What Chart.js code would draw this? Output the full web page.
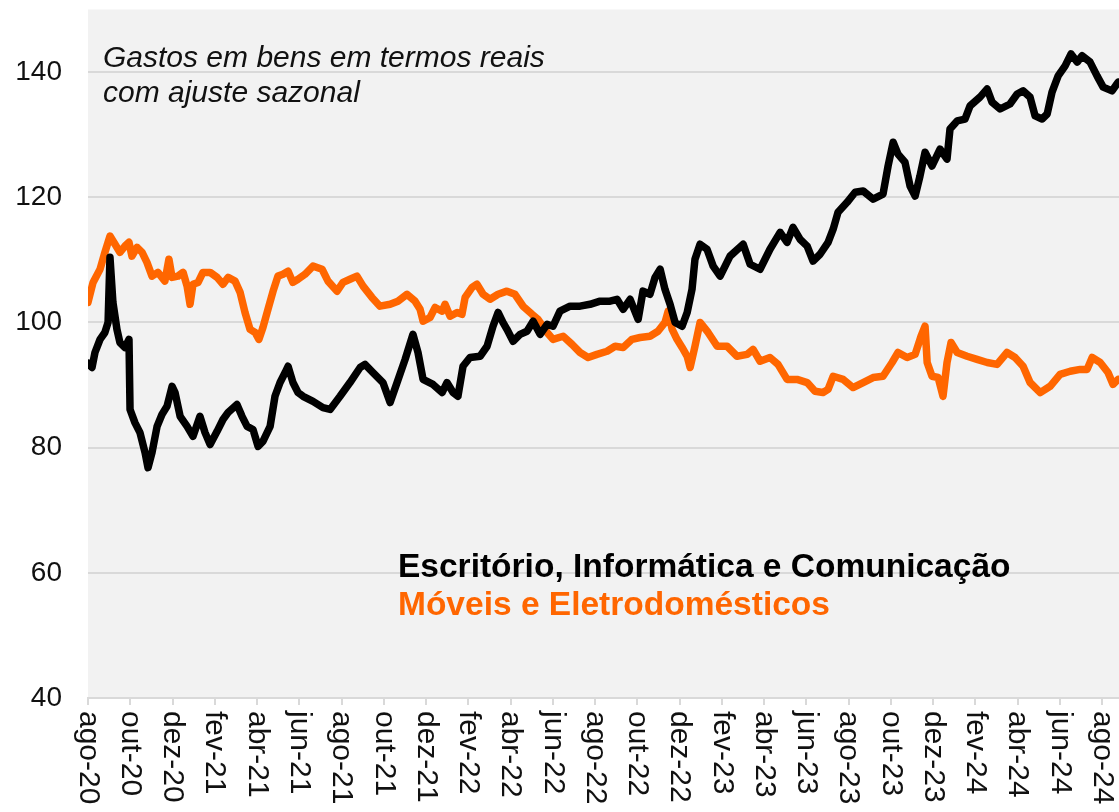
<!DOCTYPE html>
<html>
<head>
<meta charset="utf-8">
<script src="https://cdn.jsdelivr.net/npm/chart.js@4/dist/chart.umd.min.js"></script>
<style>
  body { margin: 0; background: #fff; }
  #wrap { position: relative; width: 1119px; height: 812px; overflow: hidden; }
  .note { position: absolute; left: 103px; top: 40px; font: italic 30px Arial, 'Liberation Sans', sans-serif; line-height: 34.5px; color: #111; white-space: nowrap; }
  .leg { position: absolute; left: 398px; font: bold 33.5px Arial, 'Liberation Sans', sans-serif; line-height: 38px; white-space: nowrap; }
</style>
</head>
<body>
<div id="wrap">
  <canvas id="chart" width="1119" height="812"></canvas>
  <div class="note">Gastos em bens em termos reais<br>com ajuste sazonal</div>
  <div class="leg" style="top:547px;color:#000">Escritório, Informática e Comunicação</div>
  <div class="leg" style="top:585px;color:#ff6600">Móveis e Eletrodomésticos</div>
</div>
<script>
// months counted from ago-20
const tickLabels = ['ago-20','out-20','dez-20','fev-21','abr-21','jun-21','ago-21','out-21','dez-21','fev-22','abr-22','jun-22','ago-22','out-22','dez-22','fev-23','abr-23','jun-23','ago-23','out-23','dez-23','fev-24','abr-24','jun-24','ago-24'];

const blackMonths = [0,0.19,0.33,0.57,0.80,0.95,1.04,1.18,1.37,1.51,1.75,1.94,1.99,2.22,2.46,2.70,2.84,3.03,3.27,3.50,3.74,3.98,4.12,4.36,4.69,4.97,5.30,5.54,5.78,6.11,6.39,6.63,7.05,7.29,7.53,7.81,8.05,8.28,8.62,8.85,9.09,9.33,9.47,9.70,9.94,
  10.18,10.65,11.12,11.46,11.93,12.40,12.88,13.11,13.49,13.96,14.30,14.63,15.01,15.38,15.62,15.86,16.33,16.76,16.99,17.28,17.51,17.75,18.08,18.56,18.89,19.17,19.41,19.64,19.83,20.12,20.45,20.78,21.07,21.40,21.73,22.01,22.34,22.82,23.29,23.76,24.24,24.71,25.04,25.33,25.66,26.04,26.27,26.60,26.84,27.08,27.31,27.55,27.79,28.12,28.36,28.59,28.73,28.97,29.30,29.59,29.92,
  30.39,31.01,31.34,31.81,32.28,32.76,33.09,33.37,33.70,34.04,34.32,34.65,35.03,35.27,35.50,35.93,36.31,36.69,37.16,37.63,37.87,38.11,38.34,38.67,38.91,39.15,39.38,39.62,39.95,40.33,40.66,40.80,41.14,41.51,41.75,42.22,42.56,42.79,43.17,43.64,43.98,44.26,44.59,44.83,45.16,45.40,45.63,45.92,46.25,46.53,46.82,47.05,47.43,47.76,48.05,48.47,48.76];
const blackValues = [93.5,92.8,95.2,97.3,98.4,100,110.4,103.2,98.9,96.8,96,97.3,86.1,84,82.4,79.2,76.8,79.2,83.4,85.3,86.6,89.8,88.8,85,83.4,81.8,85,82.4,80.5,82.6,84.5,85.6,86.9,85,83.4,82.9,80.2,81,83.4,88.2,90.4,92,93,90.4,88.8,
  88.2,87.4,86.4,86.1,88.2,90.4,92.8,93.3,92,90.4,87.2,90.4,94.1,98.1,95.2,90.9,90.1,88.8,90.4,88.8,88.2,93,94.4,94.6,96.2,99.4,101.6,100,98.9,97,98.1,98.6,100.2,98.1,99.7,99.4,101.8,102.6,102.6,102.9,103.4,103.4,103.7,102.1,103.7,100.5,105,104.5,107.2,108.5,105.3,102.9,100,99.4,101.6,105.3,110.1,112.5,111.7,109,107.4,
  110.6,112.5,109.3,108.5,111.7,114.4,112.8,115.2,113.3,112.2,109.8,110.9,112.8,114.9,117.6,119.2,120.8,121,119.7,120.5,125,128.8,126.9,125.6,121.8,120.2,123.4,127.2,125,127.7,126.1,130.9,132.2,132.5,134.6,136,137.3,135.2,134.1,134.9,136.5,137,136,133,132.5,133.3,136.8,139.4,141,142.9,141.6,142.6,141.6,139.4,137.6,137,138.4];

const orangeMonths = [0,0.24,0.57,0.80,1.04,1.28,1.51,1.75,1.94,2.08,2.32,2.56,2.79,3.03,3.31,3.64,3.83,3.98,4.26,4.50,4.69,4.83,4.97,5.21,5.44,5.78,6.11,6.39,6.63,6.96,7.20,7.43,7.67,7.91,8.09,8.28,8.52,8.76,8.99,9.23,9.47,9.70,9.94,
  10.27,10.65,11.08,11.36,11.79,12.07,12.40,12.73,13.02,13.44,13.82,14.30,14.67,15.10,15.48,15.72,15.86,16.19,16.43,16.76,16.90,17.14,17.47,17.70,17.85,18.18,18.41,18.70,19.03,19.41,19.83,20.21,20.59,21.02,21.30,21.73,22.01,22.49,22.91,23.29,23.67,24.09,24.57,24.95,25.33,25.75,26.13,26.60,26.98,27.31,27.46,27.65,27.88,28.12,28.36,28.50,28.73,28.97,29.35,29.78,
  30.25,30.72,31.20,31.48,31.81,32.28,32.66,33.09,33.56,34.04,34.41,34.79,35.03,35.27,35.74,36.21,36.69,37.16,37.63,38.06,38.34,38.77,39.15,39.43,39.62,39.72,39.95,40.24,40.47,40.66,40.85,41.14,41.61,42.08,42.56,43.03,43.50,43.88,44.26,44.59,45.07,45.54,46.01,46.49,46.96,47.29,47.53,47.91,48.28,48.52,48.76];
const orangeValues = [103.2,106.4,108.5,111.2,113.8,112.5,111.2,112.2,112.8,110.6,112,111.2,109.6,107.4,108,106.6,110.1,107.2,107.4,108,105.8,102.9,106.1,106.4,108,108,107.2,106.1,107.2,106.6,104.8,101.6,98.9,98.4,97.3,99.2,102.1,105,107.4,107.7,108.2,106.4,106.9,
  107.7,109,108.5,106.6,105,106.4,106.9,107.4,105.8,104,102.6,102.9,103.4,104.5,103.4,102.1,100.2,100.8,102.4,101.8,102.9,101,101.6,101.3,104,105.6,106.1,104.5,103.7,104.5,105,104.5,102.6,101.3,100.5,98.4,97.3,97.8,96.5,95.2,94.4,94.9,95.4,96.2,96,97.3,97.6,97.8,98.6,100,101.8,98.9,97.3,96,94.6,92.8,96.2,100,98.4,96.2,
  96.2,94.6,94.9,95.7,93.8,94.4,93.3,90.9,90.9,90.4,89,88.8,89.3,91.4,90.9,89.6,90.4,91.2,91.4,93.6,95.2,94.4,94.9,97.8,99.4,93.6,91.4,91.2,88.2,93.6,96.8,95.2,94.6,94.1,93.6,93.3,95.2,94.4,93,90.4,88.8,89.8,91.7,92.2,92.5,92.5,94.4,93.6,92,90.1,90.9];

const toPoints = (xs, ys) => xs.map((x, i) => ({ x: x, y: ys[i] }));

const FONT = "Arial, 'Liberation Sans', sans-serif";

const plotBg = {
  id: 'plotBg',
  beforeDraw(chart) {
    const a = chart.chartArea, ctx = chart.ctx;
    ctx.save();
    ctx.fillStyle = '#f2f2f2';
    ctx.fillRect(a.left, a.top, a.right - a.left, a.bottom - a.top);
    ctx.restore();
  }
};

// month labels read downward, like the original
const downLabels = {
  id: 'downLabels',
  afterDraw(chart) {
    const sx = chart.scales.x, ctx = chart.ctx;
    ctx.save();
    ctx.fillStyle = '#111';
    ctx.font = '30px ' + FONT;
    ctx.textAlign = 'left';
    ctx.textBaseline = 'middle';
    sx.ticks.forEach(t => {
      const lbl = tickLabels[Math.round(t.value / 2)];
      if (!lbl) return;
      ctx.save();
      ctx.translate(sx.getPixelForValue(t.value), sx.top + 13);
      ctx.rotate(Math.PI / 2);
      ctx.fillText(lbl, 0, 0);
      ctx.restore();
    });
    ctx.restore();
  }
};

new Chart(document.getElementById('chart'), {
  type: 'line',
  data: {
    datasets: [{
      label: 'Escritório, Informática e Comunicação',
      data: toPoints(blackMonths, blackValues),
      borderColor: '#000',
      borderWidth: 7.5,
      pointRadius: 0,
      tension: 0,
      borderJoinStyle: 'round',
      borderCapStyle: 'round'
    }, {
      label: 'Móveis e Eletrodomésticos',
      data: toPoints(orangeMonths, orangeValues),
      borderColor: '#ff6600',
      borderWidth: 7.5,
      pointRadius: 0,
      tension: 0,
      borderJoinStyle: 'round',
      borderCapStyle: 'round'
    }]
  },
  options: {
    responsive: false,
    animation: false,
    layout: { padding: { top: 9.5, right: 0, left: 0, bottom: 0 } },
    plugins: { legend: { display: false }, tooltip: { enabled: false } },
    scales: {
      x: {
        type: 'linear',
        min: 0,
        max: 48.8,
        afterBuildTicks(s) { s.ticks = tickLabels.map((l, i) => ({ value: i * 2 })); },
        afterFit(s) { s.height = 114; s.paddingLeft = 0; s.paddingRight = 0; },
        ticks: { stepSize: 2, autoSkip: false, display: false },
        grid: { drawOnChartArea: false, drawTicks: true, tickLength: 7, color: '#d9d9d9', lineWidth: 2 },
        border: { color: '#d9d9d9', width: 2 }
      },
      y: {
        min: 40,
        max: 150,
        afterBuildTicks(s) { s.ticks = s.ticks.filter(t => t.value <= 140); },
        afterFit(s) { s.width = 88; s.paddingTop = 0; s.paddingBottom = 0; },
        ticks: { stepSize: 20, padding: 26, color: '#111', font: { size: 28, family: FONT } },
        grid: { color: '#d9d9d9', lineWidth: 2, drawTicks: false },
        border: { display: false }
      }
    }
  },
  plugins: [plotBg, downLabels]
});
</script>
</body>
</html>
